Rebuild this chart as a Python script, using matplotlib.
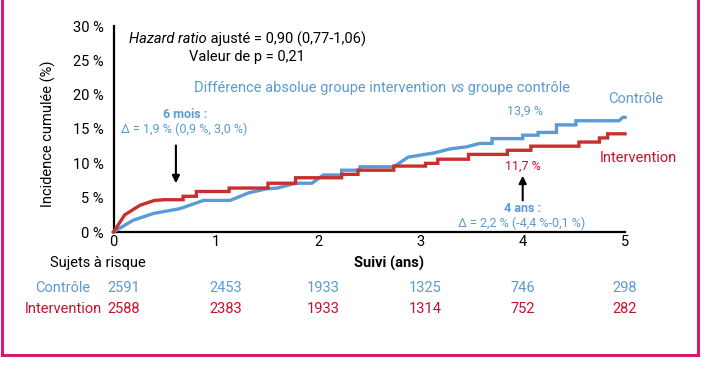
import matplotlib
matplotlib.use("Agg")
import matplotlib.pyplot as plt
from matplotlib.lines import Line2D

# ---------------- data ----------------
ctrl_t = [0, 0.19, 0.39, 0.65, 0.88, 1.14, 1.32, 1.50, 1.60, 1.78, 1.94, 2.05, 2.23, 2.23, 2.41, 2.41,
          2.74, 2.88, 3.00, 3.13, 3.29, 3.45, 3.58, 3.70, 3.70, 4.00, 4.00, 4.15, 4.15, 4.33, 4.33,
          4.52, 4.52, 4.94, 4.98, 5.00]
ctrl_y = [0, 1.7, 2.7, 3.4, 4.6, 4.6, 5.7, 6.3, 6.4, 7.1, 7.1, 8.3, 8.3, 9.0, 9.0, 9.5,
          9.5, 10.9, 11.2, 11.5, 12.1, 12.4, 12.9, 12.9, 13.6, 13.6, 14.1, 14.1, 14.5, 14.5, 15.6,
          15.6, 16.2, 16.2, 16.7, 16.7]

int_t = [0, 0.11, 0.26, 0.40, 0.50, 0.68, 0.68, 0.81, 0.81, 1.13, 1.13, 1.51, 1.51, 1.78, 1.78,
         2.23, 2.23, 2.39, 2.39, 2.74, 2.74, 3.05, 3.05, 3.17, 3.17, 3.47, 3.47, 3.85, 3.85,
         4.08, 4.08, 4.55, 4.55, 4.75, 4.75, 4.83, 4.83, 5.00]
int_y = [0, 2.5, 3.9, 4.6, 4.7, 4.7, 5.2, 5.2, 5.9, 5.9, 6.4, 6.4, 7.1, 7.1, 7.9,
         7.9, 8.4, 8.4, 9.0, 9.0, 9.6, 9.6, 10.0, 10.0, 10.6, 10.6, 11.3, 11.3, 11.9,
         11.9, 12.5, 12.5, 13.1, 13.1, 13.7, 13.7, 14.3, 14.3]

x_ticks = [0, 1, 2, 3, 4, 5]
y_ticks = [0, 5, 10, 15, 20, 25, 30]
y_tick_labels = ["0 %", "5 %", "10 %", "15 %", "20 %", "25 %", "30 %"]

risk_ctrl = [2591, 2453, 1933, 1325, 746, 298]
risk_int = [2588, 2383, 1933, 1314, 752, 282]

# ---------------- style ----------------
W, H = 702, 370
BLUE = "#5b9bd5"
BLUE_TXT = "#5b9bd5"
RED = "#c8302e"
RED_TXT = "#c8102e"
FRAME = "#d6196e"
FONT = ["Roboto", "DejaVu Sans"]
FS = 10.5
FS_SMALL = 9

plt.rcParams["font.family"] = FONT

fig = plt.figure(figsize=(W / 100, H / 100), dpi=100)
fig.patch.set_facecolor("white")

def fx(x):
    return x / W

def fy(y):
    return 1 - y / H

ax_l, ax_r, ax_t, ax_b = 113.5, 625, 26, 232
ax = fig.add_axes([fx(ax_l), fy(ax_b), (ax_r - ax_l) / W, (ax_b - ax_t) / H])
ax.set_xlim(0, 5)
ax.set_ylim(0, 30)
for s in ["top", "right"]:
    ax.spines[s].set_visible(False)
for s in ["left", "bottom"]:
    ax.spines[s].set_linewidth(1.6)
    ax.spines[s].set_color("black")
ax.set_xticks(x_ticks)
ax.set_xticklabels([str(v) for v in x_ticks], fontsize=FS)
ax.set_yticks(y_ticks)
ax.set_yticklabels(y_tick_labels, fontsize=FS)
ax.tick_params(axis="both", length=0)
ax.tick_params(axis="y", pad=7)
ax.tick_params(axis="x", pad=2)
ax.set_ylabel("Incidence cumulée (%)", fontsize=FS)
ax.yaxis.set_label_coords((56 - ax_l) / (ax_r - ax_l), (ax_b - 134) / (ax_b - ax_t))
ax.patch.set_alpha(0)

ax.plot(ctrl_t, ctrl_y, color=BLUE, lw=2.4, solid_joinstyle="miter", clip_on=False, zorder=3)
ax.plot(int_t, int_y, color=RED, lw=2.4, solid_joinstyle="miter", clip_on=False, zorder=4)

# arrows
ax.annotate("", xy=(0.61, 7.1), xytext=(0.61, 12.6),
            arrowprops=dict(arrowstyle="-|>", color="black", lw=1.5, mutation_scale=11,
                            shrinkA=0, shrinkB=0))
ax.annotate("", xy=(4.0, 8.2), xytext=(4.0, 4.6),
            arrowprops=dict(arrowstyle="-|>", color="black", lw=1.5, mutation_scale=11,
                            shrinkA=0, shrinkB=0))

fig.canvas.draw()
renderer = fig.canvas.get_renderer()

def pieces(x, y, parts, color, fs=FS):
    cur = fx(x)
    for txt_, style in parts:
        t = fig.text(cur, fy(y), txt_, fontsize=fs, color=color, style=style,
                     ha="left", va="center")
        bb = t.get_window_extent(renderer=renderer)
        cur += bb.width / W

def txt(x, y, s, color="black", ha="center", weight="normal", fs=FS):
    fig.text(fx(x), fy(y), s, color=color, ha=ha, va="center", fontsize=fs, weight=weight)

pieces(129, 39, [("Hazard ratio", "italic"), (" ajusté = 0,90 (0,77-1,06)", "normal")], "black")
txt(247, 57, "Valeur de p = 0,21")
pieces(194, 88, [("Différence absolue groupe intervention ", "normal"), ("vs", "italic"),
                 (" groupe contrôle", "normal")], BLUE_TXT)
txt(636, 99, "Contrôle", BLUE_TXT)
txt(525, 111, "13,9 %", BLUE_TXT, fs=FS_SMALL)
txt(185, 114, "6 mois :", BLUE_TXT, weight="bold", fs=FS_SMALL)
txt(184, 129, "Δ = 1,9 % (0,9 %, 3,0 %)", BLUE_TXT, fs=FS_SMALL)
txt(638, 158, "Intervention", RED_TXT)
txt(523, 166, "11,7 %", RED_TXT, fs=FS_SMALL)
txt(522, 208, "4 ans :", BLUE_TXT, weight="bold", fs=FS_SMALL)
txt(522, 223, "Δ = 2,2 % (-4,4 %-0,1 %)", BLUE_TXT, fs=FS_SMALL)

# risk table
txt(98, 263, "Sujets à risque")
txt(389, 263, "Suivi (ans)", weight="bold")
txt(90, 288, "Contrôle", BLUE_TXT, ha="right")
txt(102, 309, "Intervention", RED_TXT, ha="right")
risk_x = [124, 226, 323, 425, 523, 625]
for xp, c, i in zip(risk_x, risk_ctrl, risk_int):
    txt(xp, 288, str(c), BLUE_TXT)
    txt(xp, 309, str(i), RED_TXT)

# magenta frame (open at top)
lw_frame = 2.2
fig.add_artist(Line2D([fx(2), fx(2)], [fy(0), fy(355)], color=FRAME, lw=lw_frame))
fig.add_artist(Line2D([fx(698), fx(698)], [fy(0), fy(355)], color=FRAME, lw=lw_frame))
fig.add_artist(Line2D([fx(2), fx(698)], [fy(355), fy(355)], color=FRAME, lw=lw_frame))

fig.savefig("out.png", dpi=100, facecolor="white")
